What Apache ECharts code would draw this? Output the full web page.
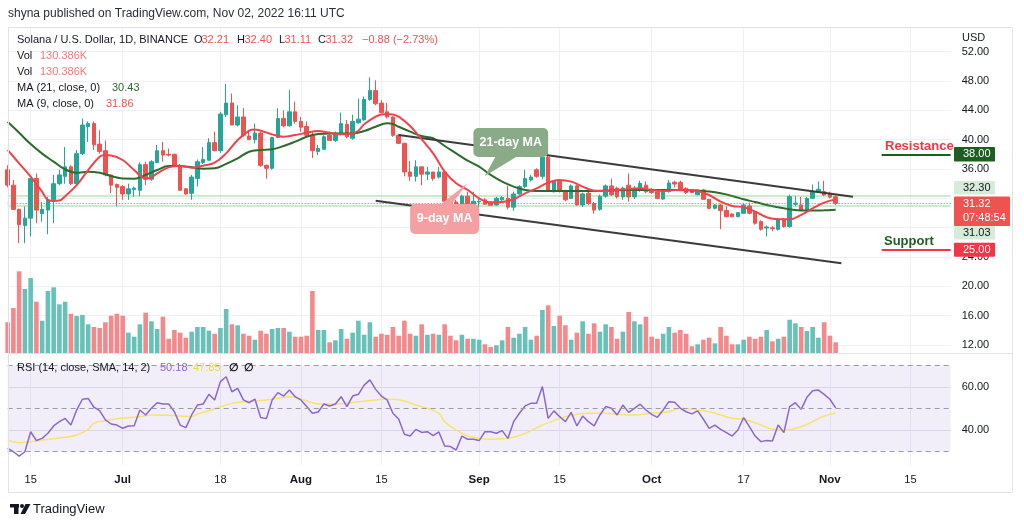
<!DOCTYPE html>
<html><head><meta charset="utf-8">
<script src="https://cdn.jsdelivr.net/npm/echarts@6/dist/echarts.min.js"></script>
<style>html,body{margin:0;padding:0;background:#fff}#c{width:1024px;height:526px}</style>
</head><body><div id="c"></div>
<script>
// ---- axis / categories ----
const startDate = [2022, 5, 11];   // 2022-06-11 (month 0-based)
const dayCount = 165;              // through 2022-11-22
const tickLabels = {
  '2022-06-15':'15','2022-07-01':'Jul','2022-07-18':'18','2022-08-01':'Aug','2022-08-15':'15',
  '2022-09-01':'Sep','2022-09-15':'15','2022-10-01':'Oct','2022-10-17':'17','2022-11-01':'Nov','2022-11-15':'15'
};
const priceTicks = [12,16,20,24,28,32,36,40,44,48,52];
const priceLabels = [12,16,20,24,36,40,44,48,52];
const rsiTicks = [40,60];

// ---- OHLC (daily, from 2022-06-11) ----
const opens = [35.9,33.8,30.5,28.3,29.3,34.7,29.9,30.4,31.8,34.0,35.0,36.3,34.0,38.1,41.8,42.2,39.4,38.5,35.2,33.9,
 33.6,32.6,33.2,33.1,36.6,34.6,36.9,38.5,38.0,38.0,36.5,33.3,32.7,34.7,36.9,37.2,39.6,38.5,43.4,45.0,
 42.0,43.1,40.5,40.0,40.9,36.5,36.1,40.3,42.9,41.9,43.8,42.5,41.8,40.6,38.4,38.7,40.6,39.9,40.9,42.1,
 40.2,42.3,42.7,45.5,46.7,45.0,43.8,43.1,40.6,39.5,35.6,35.0,36.3,35.3,35.6,34.9,35.6,31.9,31.5,30.8,
 32.3,31.0,31.5,31.8,31.4,31.1,31.8,32.0,30.8,32.6,33.6,34.5,35.9,35.0,37.6,32.9,34.3,33.05,32.0,33.7,
 31.1,32.7,31.3,30.5,32.3,33.7,33.4,32.2,33.8,32.2,33.15,33.8,33.25,32.9,31.9,32.9,34.2,34.15,33.37,33.15,
 32.5,33.15,31.87,30.64,31.1,30.33,29.87,29.5,29.96,30.96,30.2,28.83,27.95,28.0,27.78,29.14,28.14,31.2,31.1,30.42,
 32.0,32.9,32.92,32.69,32.21];
const highs = [36.5,34.5,30.6,30.9,34.7,35.4,31.5,32.2,35.2,35.9,39.0,36.5,38.6,42.9,42.5,42.5,41.3,39.9,35.2,34.0,
 33.8,34.0,33.6,36.9,37.0,37.2,39.3,39.7,38.8,38.1,36.7,33.4,35.2,37.3,39.0,40.2,41.1,43.8,47.6,46.3,
 44.7,44.3,41.1,42.2,41.1,36.6,40.4,44.3,44.0,46.8,45.2,43.1,42.5,41.1,39.3,40.6,41.1,41.1,43.7,42.7,
 43.4,45.6,45.9,48.5,48.1,45.4,45.0,43.2,40.8,39.6,37.1,37.2,36.3,36.3,35.6,36.3,35.8,32.2,31.8,32.5,
 32.9,32.9,31.9,32.0,31.55,32.2,32.3,33.7,32.9,33.8,35.9,35.2,36.1,38.4,39.0,34.5,34.6,33.2,33.9,33.8,
 32.8,33.2,31.5,32.5,33.9,34.7,33.6,33.6,35.4,33.7,34.4,34.3,33.4,33.0,33.0,34.5,34.4,34.4,33.5,33.2,
 33.2,33.3,31.9,31.2,31.3,30.9,29.95,30.1,31.3,31.4,30.3,29.0,28.3,28.2,29.3,29.3,32.5,32.3,32.2,32.2,
 33.9,34.3,34.4,32.9,32.40];
const lows = [33.5,30.4,25.9,25.9,26.8,28.6,28.8,27.1,28.6,33.8,34.0,33.8,33.8,37.9,39.7,38.6,38.1,35.0,32.7,30.9,
 31.8,31.8,32.2,32.3,33.8,34.4,36.8,37.0,37.7,36.3,33.0,32.5,31.8,33.6,36.7,37.1,38.4,38.2,43.1,42.0,
 41.8,40.4,40.0,39.5,36.3,34.7,35.9,40.2,41.7,41.8,42.2,41.1,40.4,37.5,37.9,38.6,39.9,39.7,40.6,40.2,
 40.0,42.2,42.6,45.3,44.7,43.6,42.9,40.4,39.4,35.0,34.4,34.3,33.8,34.5,34.4,34.7,31.5,31.3,30.4,30.05,
 30.5,30.4,30.4,31.1,30.96,31.0,31.6,30.5,30.3,32.5,33.4,34.3,34.8,34.6,32.9,32.8,32.8,31.6,31.9,31.0,
 30.8,31.1,29.9,30.3,32.1,32.3,32.0,31.8,31.55,31.9,32.9,32.7,32.6,31.9,31.8,32.8,33.5,33.0,32.6,32.7,
 32.4,31.8,30.5,30.5,27.8,29.4,29.4,29.4,29.9,29.8,28.4,27.6,26.8,27.5,27.6,28.0,28.0,30.9,30.3,30.3,
 31.9,32.8,32.3,32.0,31.11];
const closes = [33.8,30.5,28.4,29.3,34.7,30.4,30.5,31.8,34.0,35.2,36.3,34.0,38.1,42.0,42.2,39.3,38.4,35.2,33.8,33.5,
 32.6,33.3,33.4,36.6,34.6,37.0,38.5,37.9,37.9,36.5,33.1,32.6,34.9,37.0,37.3,39.6,38.5,43.5,45.0,42.0,
 43.1,40.6,40.0,40.9,36.5,36.1,40.3,42.9,41.9,43.8,42.5,41.7,40.6,38.5,38.8,40.4,39.9,40.9,42.2,40.4,
 42.5,42.8,45.5,46.7,44.9,43.7,43.1,40.6,39.5,35.6,35.0,36.3,35.3,35.6,34.7,35.6,31.6,31.4,30.8,32.3,
 30.8,31.6,31.6,31.2,31.05,32.0,32.1,30.8,32.6,33.6,34.7,34.9,35.0,37.6,33.0,34.3,33.0,31.8,33.7,31.1,
 32.6,31.3,30.4,32.3,33.7,32.5,32.2,33.4,32.2,33.4,34.05,32.9,32.8,32.0,32.9,34.1,33.95,33.15,32.78,32.8,
 33.15,31.87,30.64,31.1,30.33,29.5,29.5,30.05,31.1,29.96,28.6,27.78,28.1,27.85,29.14,28.14,32.24,31.35,30.42,32.0,
 32.9,33.24,32.46,32.15,31.32];

// ---- volume (thousands) ----
const volumes = [375,549,997,781,915,626,394,756,801,594,626,479,451,464,350,317,305,375,455,479,
 455,248,199,350,492,387,293,443,174,281,248,187,260,317,317,272,235,305,537,350,
 338,235,211,162,272,235,293,305,305,260,199,199,211,756,281,281,131,155,293,174,
 248,394,223,375,199,235,223,317,211,394,235,211,350,223,235,223,350,211,155,223,
 174,174,162,106,73,94,155,317,187,235,317,162,211,525,582,329,455,338,162,248,
 387,235,362,260,350,317,174,260,500,387,350,443,199,174,235,317,248,281,235,82,
 106,162,187,118,317,211,106,106,162,199,174,199,281,143,174,199,406,362,317,268,
 317,187,375,211,130.386];

// ---- moving averages, read as [day index, value] ----
const ma21 = [[0,42.45],[2,40.95],[4,39.4],[6,38.1],[8,37.0],[10,35.95],[12,35.5],[14,35.64],[16,35.5],[18,35.05],
 [20,34.7],[22,34.68],[24,35.2],[26,35.86],[28,36.4],[30,36.4],[32,36.23],[34,36.05],[36,36.1],[38,36.7],
 [40,37.45],[42,38.36],[44,38.6],[46,38.7],[48,39.14],[50,39.73],[52,40.4],[54,40.77],[56,40.86],[58,40.86],
 [60,40.86],[62,41.18],[64,41.77],[66,42.23],[67,42.14],[68,41.77],[70,41.1],[72,40.5],[74,40.2],[76,39.14],
 [78,38.14],[80,37.14],[82,36.33],[84,35.19],[86,34.28],[88,33.6],[90,33.15],[92,33.0],[96,33.0],[100,33.0],
 [104,33.05],[108,33.15],[112,33.15],[116,33.15],[120,33.05],[122,32.92],[124,32.69],[126,32.33],[128,31.87],[130,31.5],
 [132,31.1],[134,30.78],[136,30.51],[138,30.33],[140,30.33],[142,30.37],[144,30.43]];
const ma9 = [[0,38.6],[2,36.77],[4,34.95],[6,32.9],[7,31.77],[8,31.64],[9,31.7],[10,32.3],[12,33.8],[14,35.86],
 [16,37.68],[17,37.9],[18,37.86],[20,37.23],[22,35.86],[24,34.7],[25,34.86],[26,35.4],[28,36.23],[30,36.4],
 [32,36.18],[34,36.45],[36,36.86],[38,38.14],[40,39.95],[42,41.23],[43,41.4],[44,41.23],[46,40.73],[48,40.4],
 [50,40.64],[52,40.95],[54,41.18],[56,40.95],[58,40.73],[60,40.86],[61,41.23],[62,42.1],[64,43.14],[65,43.45],
 [66,43.5],[67,43.45],[68,43.14],[70,41.86],[72,40.05],[74,38.14],[76,35.65],[78,34.05],[80,33.15],[82,32.0],
 [84,31.46],[86,31.5],[88,31.87],[90,32.69],[92,33.37],[94,34.14],[96,34.5],[98,34.28],[100,33.6],[102,33.05],
 [104,33.0],[106,33.15],[108,33.24],[110,33.37],[112,33.15],[114,33.0],[116,33.15],[118,33.15],[120,33.0],[122,32.46],
 [124,31.55],[126,30.96],[128,30.78],[130,30.19],[132,29.42],[134,29.14],[136,29.14],[138,29.74],[140,30.64],[142,31.42],[144,31.86]];

// ---- RSI (14) and its SMA ----
const rsi = [31.4,29.8,27.8,29.8,39.1,35.0,36.0,38.4,41.8,43.8,45.3,42.2,49.2,54.2,54.6,50.5,48.9,44.6,42.7,42.2,
 40.7,41.8,41.9,49.2,46.9,50.0,52.6,52.0,52.0,48.4,42.2,41.0,46.9,51.5,52.0,56.5,53.9,62.4,64.7,57.7,
 59.3,53.9,52.6,54.3,45.7,45.2,53.9,57.3,55.7,58.5,55.4,53.9,50.8,47.7,48.3,52.0,51.1,52.0,55.4,50.8,
 55.7,56.5,60.8,63.2,58.8,55.7,53.9,47.7,45.0,37.9,37.1,40.2,38.8,39.1,37.3,39.0,32.5,32.2,30.6,37.1,
 35.6,35.6,35.0,39.1,39.1,38.4,39.6,36.0,43.8,47.7,51.1,52.3,52.3,60.1,45.3,48.8,46.1,43.8,48.1,41.8,
 46.4,43.8,41.8,46.9,50.8,50.0,46.9,51.5,48.1,50.0,51.9,49.2,47.2,45.8,49.2,53.1,52.8,50.0,48.4,47.4,
 48.8,44.9,40.7,42.2,40.2,38.7,37.1,39.9,45.7,41.5,37.1,34.5,35.0,34.8,42.2,38.7,50.8,52.6,49.5,55.1,
 58.2,58.5,56.5,54.2,50.18];
const rsiSma = [[0,35.26],[2,34.0],[4,34.48],[7,35.57],[10,36.5],[12,37.6],[14,40.22],[15,43.0],[17,44.25],[19,45.18],
 [21,45.65],[23,46.1],[25,46.9],[28,46.73],[30,46.42],[32,46.1],[33,47.35],[35,48.9],[37,50.76],[39,52.3],
 [40,52.78],[43,53.4],[45,53.86],[47,54.64],[49,55.4],[51,54.17],[53,52.6],[54,52.0],[57,52.0],[59,52.3],
 [61,53.1],[64,53.86],[65,54.17],[67,54.17],[69,53.4],[71,51.5],[73,50.0],[75,47.66],[76,43.79],[78,39.9],
 [80,37.12],[82,36.03],[84,35.57],[86,35.8],[88,36.5],[90,38.36],[93,42.24],[95,44.25],[97,46.1],[101,47.66],
 [104,47.66],[106,47.2],[109,46.9],[112,47.66],[115,48.44],[117,50.0],[119,49.5],[122,48.44],[124,46.9],[126,45.34],
 [128,44.87],[131,42.24],[133,40.22],[135,39.9],[138,41.46],[140,43.79],[142,46.42],[144,47.85]];

// ---- reference levels ----
const levelHigh = 32.30, levelLow = 31.03, lastPrice = 31.32;
const resistance = 38.00, support = 25.00;
const upperChannel = [[68,40.64],[147,32.22]];
const lowerChannel = [[64,31.68],[145,23.13]];

// ================= build =================
const dates = [];
const t0 = Date.UTC(startDate[0], startDate[1], startDate[2]);
for (let k = 0; k < dayCount; k++) dates.push(new Date(t0 + k * 86400000).toISOString().slice(0, 10));

const UP = '#26a69a', DN = '#ef5350';
const VUP = '#68c1b8', VDN = '#f4888a';
const TXT = '#131722';
const FONT = 'Liberation Sans';

const candles = opens.map((o, i) => [o, closes[i], lows[i], highs[i]]);
const volData = volumes.map((v, i) => ({ value: v, itemStyle: { color: closes[i] >= opens[i] ? VUP : VDN } }));

const showTick = (idx, val) => tickLabels[val] !== undefined;
const L = 7.65, R = 73.35;
const gridLineColor = '#eef0f5';

const xBase = (grid, extra) => Object.assign({
  type: 'category', gridIndex: grid, data: dates, boundaryGap: false,
  axisLine: { show: false }, axisTick: { show: false },
  axisLabel: { show: false },
  splitLine: { show: true, interval: showTick, lineStyle: { color: gridLineColor, width: 1 } }
}, extra || {});

const option = {
  animation: false,
  backgroundColor: '#ffffff',
  grid: [
    { left: L, right: R, top: 28, bottom: 173 },
    { left: L, right: R, top: 253, bottom: 173 },
    { left: L, right: R, top: 353, bottom: 61 }
  ],
  xAxis: [
    xBase(0),
    xBase(1, { splitLine: { show: false } }),
    xBase(2, {
      axisLabel: {
        show: true, interval: showTick, margin: 9, color: TXT, fontSize: 11, fontFamily: FONT,
        formatter: (v) => { const t = tickLabels[v]; return isNaN(Number(t)) ? '{m|' + t + '}' : t; },
        rich: { m: { fontWeight: 'bold', fontSize: 11.5, color: TXT, fontFamily: FONT } }
      }
    })
  ],
  yAxis: [
    { type: 'value', gridIndex: 0, position: 'right', min: 10.90, max: 55.24, scale: true,
      axisLine: { show: false }, axisTick: { show: false, customValues: priceTicks },
      axisLabel: { customValues: priceLabels, margin: 11, color: TXT, fontSize: 11, fontFamily: FONT,
        formatter: (v) => v.toFixed(2) },
      splitLine: { show: true, lineStyle: { color: gridLineColor } } },
    { type: 'value', gridIndex: 1, min: 0, max: 1220, show: false, splitLine: { show: false } },
    { type: 'value', gridIndex: 2, position: 'right', min: 23.63, max: 75.72, scale: true,
      axisLine: { show: false }, axisTick: { show: false, customValues: rsiTicks },
      axisLabel: { customValues: rsiTicks, margin: 11, color: TXT, fontSize: 11, fontFamily: FONT,
        formatter: (v) => v.toFixed(2) },
      splitLine: { show: true, lineStyle: { color: '#e6e2f0' } } }
  ],
  series: [
    { type: 'bar', name: 'Vol', xAxisIndex: 1, yAxisIndex: 1, data: volData, barWidth: 4.6, silent: true, z: 1 },
    { type: 'candlestick', name: 'SOLUSD', xAxisIndex: 0, yAxisIndex: 0, data: candles, barWidth: 4, silent: true, z: 3,
      itemStyle: { color: UP, color0: DN, borderColor: UP, borderColor0: DN, borderWidth: 1 },
      markLine: {
        silent: true, symbol: ['none', 'none'], label: { show: false }, animation: false,
        data: [
          { yAxis: levelHigh, lineStyle: { color: 'rgba(76,175,80,0.28)', width: 2, type: 'solid' } },
          { yAxis: levelLow, lineStyle: { color: 'rgba(76,175,80,0.28)', width: 2, type: 'solid' } },
          { yAxis: lastPrice, lineStyle: { color: '#ef5350', width: 1, type: [1, 2] } },
          [{ coord: [dates[upperChannel[0][0]], upperChannel[0][1]], lineStyle: { color: '#3b3b3b', width: 2, type: 'solid' } },
           { coord: [dates[upperChannel[1][0]], upperChannel[1][1]] }],
          [{ coord: [dates[lowerChannel[0][0]], lowerChannel[0][1]], lineStyle: { color: '#3b3b3b', width: 2, type: 'solid' } },
           { coord: [dates[lowerChannel[1][0]], lowerChannel[1][1]] }],
          [{ coord: [dates[152], resistance], lineStyle: { color: '#1e5e20', width: 2, type: 'solid' } },
           { coord: [dates[dayCount - 1], resistance] }],
          [{ coord: [dates[152], support], lineStyle: { color: '#f23645', width: 2, type: 'solid' } },
           { coord: [dates[dayCount - 1], support] }]
        ]
      }
    },
    { type: 'line', name: 'MA21', xAxisIndex: 0, yAxisIndex: 0, data: ma21, smooth: 0.4, showSymbol: false, silent: true, z: 4,
      lineStyle: { color: '#2c6b2c', width: 2 } },
    { type: 'line', name: 'MA9', xAxisIndex: 0, yAxisIndex: 0, data: ma9, smooth: 0.4, showSymbol: false, silent: true, z: 5,
      lineStyle: { color: '#f0434d', width: 2 } },
    { type: 'line', name: 'RSI SMA', xAxisIndex: 2, yAxisIndex: 2, data: rsiSma, smooth: 0.4, showSymbol: false, silent: true, z: 3,
      lineStyle: { color: '#f6e46e', width: 1.5 },
      markArea: { silent: true, itemStyle: { color: 'rgba(126,87,194,0.1)' }, data: [[{ yAxis: 70 }, { yAxis: 30 }]] },
      markLine: { silent: true, symbol: ['none', 'none'], label: { show: false },
        lineStyle: { color: '#9a9ca5', width: 1, type: [5, 4] },
        data: [{ yAxis: 70 }, { yAxis: 50 }, { yAxis: 30 }] } },
    { type: 'line', name: 'RSI', xAxisIndex: 2, yAxisIndex: 2, data: rsi, showSymbol: false, silent: true, z: 4,
      lineStyle: { color: '#8a68cc', width: 1.5 } }
  ]
};

const chart = echarts.init(document.getElementById('c'), null, { renderer: 'canvas' });
chart.setOption(option);

// ---------- annotations ----------
const P = (i, p) => chart.convertToPixel({ gridIndex: 0 }, [i, p]);
const G = [];
const text = (x, y, t, fill, font, extra) => ({ type: 'text', x: x, y: y, z: 100, silent: true,
  style: Object.assign({ text: t, fill: fill, font: font, verticalAlign: 'middle' }, extra || {}) });
const rect = (x, y, w, h, fill, extra) => ({ type: 'rect', z: 99, silent: true, shape: Object.assign({ x: x, y: y, width: w, height: h }, extra && extra.shape || {}), style: Object.assign({ fill: fill }, extra && extra.style || {}) });

// header and frame
G.push(text(8, 14, 'shyna published on TradingView.com, Nov 02, 2022 16:11 UTC', '#2a2e39', '12px ' + FONT));
G.push({ type: 'rect', z: 90, silent: true, shape: { x: 8.5, y: 27.5, width: 1004, height: 465 }, style: { fill: 'none', stroke: '#e0e3eb', lineWidth: 1 } });
G.push({ type: 'line', z: 90, silent: true, shape: { x1: 8, y1: 353.5, x2: 1013, y2: 353.5 }, style: { stroke: '#e0e3eb', lineWidth: 1 } });

// legend lines
const LF = '11px ' + FONT;
G.push(text(17, 40, 'Solana / U.S. Dollar, 1D, BINANCE', TXT, LF));
[['O', '32.21', 194], ['H', '32.40', 237], ['L', '31.11', 279], ['C', '31.32', 318]].forEach(a => {
  G.push(text(a[2], 40, a[0], TXT, LF));
  G.push(text(a[2] + (a[0] === 'L' ? 5.5 : 7.5), 40, a[1], '#ef5350', LF));
});
G.push(text(362, 40, '\u22120.88 (\u22122.73%)', '#ef5350', LF));
G.push(text(17, 56, 'Vol', TXT, LF)); G.push(text(40, 56, '130.386K', '#f07b7b', LF));
G.push(text(17, 72, 'Vol', TXT, LF)); G.push(text(40, 72, '130.386K', '#f07b7b', LF));
G.push(text(17, 88, 'MA (21, close, 0)', TXT, LF)); G.push(text(112, 88, '30.43', '#2c6b2c', LF));
G.push(text(17, 104, 'MA (9, close, 0)', TXT, LF)); G.push(text(106, 104, '31.86', '#ef5350', LF));

// RSI legend
G.push(text(17, 368, 'RSI (14, close, SMA, 14, 2)', TXT, LF));
G.push(text(160, 368, '50.18', '#8a68cc', LF));
G.push(text(193, 368, '47.85', '#e8d84a', LF));
G.push(text(229, 368, '\u2205', TXT, 'bold 11px ' + FONT));
G.push(text(244, 368, '\u2205', TXT, 'bold 11px ' + FONT));

// USD label
G.push(rect(952, 28, 60, 19, '#ffffff'));
G.push(text(962, 38, 'USD', TXT, '11px ' + FONT));

// price tags on the right axis
const tag = (price, off, h, w, bg, fg, label, label2) => {
  const y = P(0, price)[1] + off;
  G.push(rect(954, y - h / 2, w, h, bg, { shape: { r: 1 } }));
  if (label2) {
    G.push(text(963, y - 7, label, fg, '11px ' + FONT));
    G.push(text(963, y + 7, label2, fg, '11px ' + FONT));
  } else {
    G.push(text(963, y, label, fg, '11px ' + FONT));
  }
};
tag(resistance, 0, 14.5, 41, '#1e5e20', '#ffffff', '38.00');
tag(levelHigh, -8.5, 13.5, 41, '#d7ecd8', TXT, '32.30');
tag(lastPrice, 8, 29.5, 56, '#ef5350', '#ffffff', '31.32', '07:48:54');
tag(levelLow, 27.3, 13.5, 41, '#d7ecd8', TXT, '31.03');
tag(support, 0, 14, 41, '#f23645', '#ffffff', '25.00');

// Resistance / Support labels
G.push(text(885, P(0, resistance)[1] - 7.5, 'Resistance', '#f23645', 'bold 13px ' + FONT));
G.push(text(884, P(0, support)[1] - 8.5, 'Support', '#1e5e20', 'bold 13px ' + FONT));

// callouts
const callout = (box, tail, fill, label) => {
  const tl = P(box[0], box[2]), br = P(box[1], box[3]);
  const pts = tail.map(q => P(q[0], q[1]));
  G.push({ type: 'polygon', z: 95, silent: true, shape: { points: pts }, style: { fill: fill } });
  G.push({ type: 'rect', z: 95, silent: true, shape: { x: tl[0], y: tl[1], width: br[0] - tl[0], height: br[1] - tl[1], r: 5 }, style: { fill: fill } });
  G.push({ type: 'text', z: 96, silent: true, x: (tl[0] + br[0]) / 2, y: (tl[1] + br[1]) / 2,
    style: { text: label, fill: '#ffffff', font: 'bold 12.5px ' + FONT, align: 'center', verticalAlign: 'middle' } });
};
callout([80.76, 93.8, 41.59, 37.64], [[85.1, 37.9], [88.6, 37.9], [82.67, 35.05]], '#8aab87', '21-day MA');
callout([70.15, 81.97, 31.23, 27.13], [[74.9, 31.0], [77.3, 31.0], [80.06, 34.09]], '#f4a0a2', '9-day MA');

// footer logo
G.push({ type: 'rect', z: 100, silent: true, shape: { x: 10, y: 504, width: 9, height: 3.5 }, style: { fill: '#131722' } });
G.push({ type: 'rect', z: 100, silent: true, shape: { x: 14, y: 504, width: 4.5, height: 10 }, style: { fill: '#131722' } });
G.push({ type: 'circle', z: 100, silent: true, shape: { cx: 22, cy: 506, r: 2 }, style: { fill: '#131722' } });
G.push({ type: 'polygon', z: 100, silent: true, shape: { points: [[25.5, 504], [30.5, 504], [25, 514], [20.5, 514]] }, style: { fill: '#131722' } });
G.push(text(33, 509.5, 'TradingView', '#131722', '13px ' + FONT));

chart.setOption({ graphic: G });
</script>
</body></html>
